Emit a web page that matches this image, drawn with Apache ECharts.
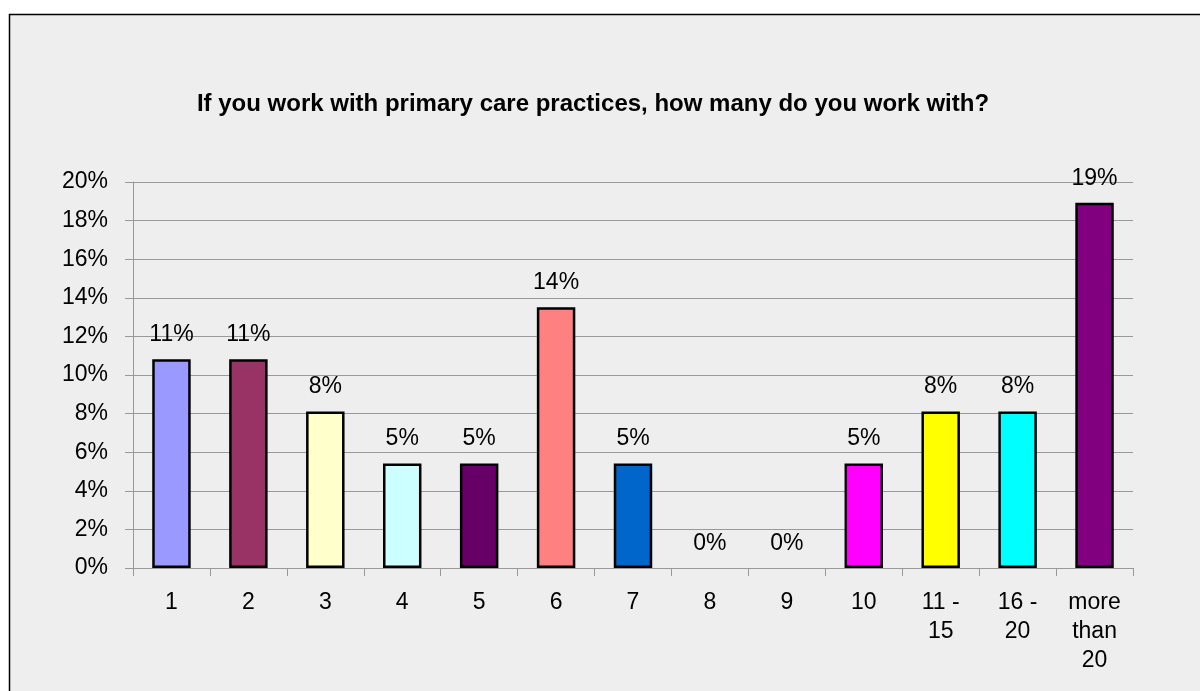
<!DOCTYPE html>
<html>
<head>
<meta charset="utf-8">
<script src="https://cdn.jsdelivr.net/npm/echarts@6/dist/echarts.min.js"></script>
<style>
html,body{margin:0;padding:0;background:#ffffff;}
#chart{width:1200px;height:691px;}
</style>
</head>
<body>
<div id="chart"></div>
<script>
const categories = ['1','2','3','4','5','6','7','8','9','10','11 -\n15','16 -\n20','more\nthan\n20'];
const values = [10.81, 10.81, 8.11, 5.41, 5.41, 13.51, 5.41, 0, 0, 5.41, 8.11, 8.11, 18.92];
const colors = ['#9999FF','#993366','#FFFFCC','#CCFFFF','#660066','#FF8080','#0066CC','#CCCCFF','#000080','#FF00FF','#FFFF00','#00FFFF','#800080'];
const yTicks = [0,2,4,6,8,10,12,14,16,18,20];
const titleText = 'If you work with primary care practices, how many do you work with?';

const chart = echarts.init(document.getElementById('chart'));
chart.setOption({
  backgroundColor: '#ffffff',
  animation: false,
  graphic: [{
    type: 'rect', z: -10, silent: true,
    shape: {x: 9.5, y: 14.5, width: 1250, height: 720},
    style: {fill: '#eeeeee', stroke: '#000000', lineWidth: 1.5}
  }],
  title: {
    text: titleText,
    left: 588, top: 87, textAlign: 'center',
    textStyle: {fontFamily: 'Liberation Sans', fontWeight: 'bold', fontSize: 24, color: '#000'}
  },
  grid: {left: 133, right: 67, top: 182, bottom: 123, containLabel: false},
  xAxis: {
    type: 'category',
    data: categories,
    axisLine: {lineStyle: {color: '#999999', width: 1}},
    axisTick: {show: true, length: 8, lineStyle: {color: '#999999'}},
    axisLabel: {
      fontFamily: 'Liberation Sans', fontSize: 23, color: '#000', margin: 20,
      lineHeight: 29, interval: 0
    }
  },
  yAxis: {
    type: 'value', min: 0, max: 20, interval: 2,
    axisLine: {show: true, lineStyle: {color: '#999999', width: 1}},
    axisTick: {show: true, length: 8, lineStyle: {color: '#999999'}},
    splitLine: {lineStyle: {color: '#999999', width: 1}},
    axisLabel: {
      fontFamily: 'Liberation Sans', fontSize: 23, color: '#000', margin: 25,
      formatter: v => yTicks.includes(v) ? v + '%' : ''
    }
  },
  series: [{
    type: 'bar',
    data: values.map((v, i) => ({value: v, itemStyle: {color: colors[i], borderWidth: v === 0 ? 0 : 2.5}})),
    barWidth: '50%',
    itemStyle: {borderColor: '#000000', borderWidth: 2.5},
    label: {
      show: true, position: 'top', distance: 13,
      fontFamily: 'Liberation Sans', fontSize: 23, color: '#000',
      formatter: p => Math.round(p.value) + '%'
    }
  }]
});
</script>
</body>
</html>
